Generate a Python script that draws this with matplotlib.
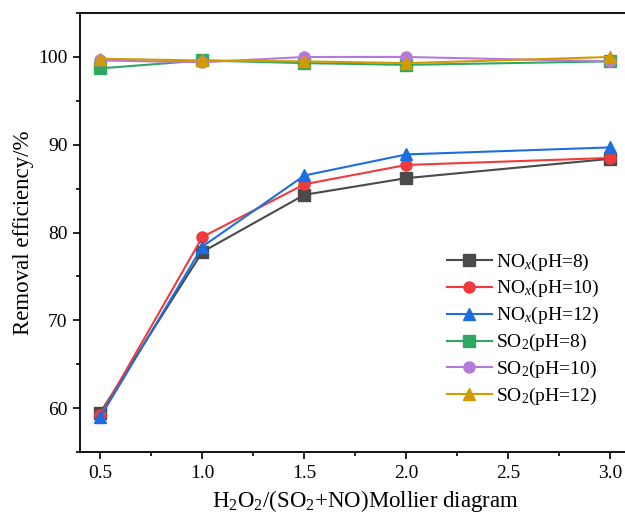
import matplotlib
matplotlib.use('Agg')
import matplotlib.pyplot as plt
from matplotlib.ticker import MultipleLocator

plt.rcParams['font.family'] = ['Liberation Serif', 'DejaVu Serif']
plt.rcParams['mathtext.fontset'] = 'custom'
plt.rcParams['mathtext.rm'] = 'Liberation Serif'
plt.rcParams['mathtext.it'] = 'Liberation Serif:italic'

# molar ratio H2O2/(SO2+NO)
ratio = [0.5, 1.0, 1.5, 2.0, 3.0]

nox_ph8 = [59.5, 77.8, 84.3, 86.2, 88.4]
nox_ph10 = [59.2, 79.5, 85.5, 87.7, 88.5]
nox_ph12 = [59.0, 78.4, 86.5, 88.9, 89.7]
so2_ph8 = [98.7, 99.6, 99.3, 99.1, 99.5]
so2_ph10 = [99.6, 99.4, 100.0, 100.0, 99.5]
so2_ph12 = [99.8, 99.6, 99.5, 99.3, 100.0]

labels = [r'NO$_x$(pH=8)', r'NO$_x$(pH=10)', r'NO$_x$(pH=12)',
          r'SO$_2$(pH=8)', r'SO$_2$(pH=10)', r'SO$_2$(pH=12)']
series = [nox_ph8, nox_ph10, nox_ph12, so2_ph8, so2_ph10, so2_ph12]
colors = ['#4a4a4a', '#f03a3c', '#1c6ee0', '#2fa862', '#b57ad9', '#d19a00']
markers = ['s', 'o', '^', 's', 'o', '^']

fig = plt.figure(figsize=(6.25, 5.17), dpi=100)
# axes run past the right edge of the canvas, so no right spine is seen
ax = fig.add_axes([0.128, 0.1257, 0.914, 0.849])

for ys, lab, c, m in zip(series, labels, colors, markers):
    ax.plot(ratio, ys, color=c, marker=m, markersize=8, linewidth=1.5, label=lab)

ax.set_xlim(0.4, 3.2)
ax.set_ylim(55, 105)
ax.xaxis.set_major_locator(MultipleLocator(0.5))
ax.xaxis.set_minor_locator(MultipleLocator(0.25))
ax.yaxis.set_major_locator(MultipleLocator(10))
ax.yaxis.set_minor_locator(MultipleLocator(5))
ax.tick_params(which='both', direction='out', labelsize=14, width=1.2)
ax.tick_params(which='major', length=5, pad=4)
ax.tick_params(which='minor', length=3)
ax.spines['right'].set_visible(False)
for s in ['left', 'bottom', 'top']:
    ax.spines[s].set_linewidth(1.3)

ax.set_xlabel(r'H$_2$O$_2$/(SO$_2$+NO)Mollier diagram', fontsize=16.5, labelpad=5)
ax.set_ylabel('Removal efficiency/%', fontsize=16.5, labelpad=3)

ax.legend(loc='lower left', bbox_to_anchor=(0.612, 0.062), frameon=False,
          fontsize=14, handlelength=2.3, labelspacing=0.3, handletextpad=0.2)

fig.savefig('out.png', dpi=100)
